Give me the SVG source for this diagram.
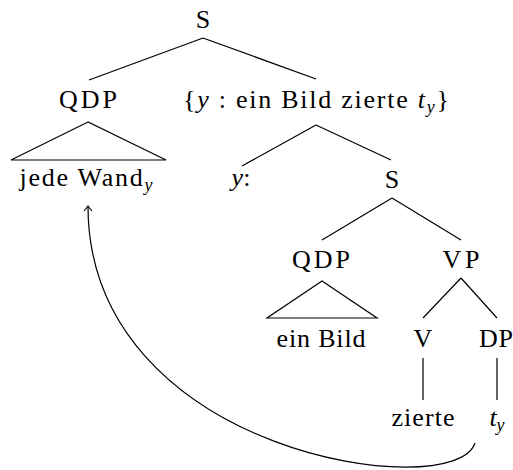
<svg xmlns="http://www.w3.org/2000/svg" width="513" height="470" viewBox="0 0 513 470">
<style>
text{font-size:26px;fill:#000;text-anchor:middle}
.it{font-style:italic}
.sub{font-style:italic;font-size:18px}
.e{stroke:#000;stroke-width:1.2;fill:none}
</style>
<defs>
<marker id="arr" markerUnits="userSpaceOnUse" markerWidth="14" markerHeight="14" refX="0" refY="0" viewBox="-7 -7 14 14" orient="auto" overflow="visible">
<path d="M -5 -4 Q -1.5 -1 0 0 Q -1.5 1 -5 4" fill="none" stroke="#000" stroke-width="1.1"/>
</marker>
</defs>
<rect width="513" height="470" fill="#fff"/>
<g id="connectors">
<path class="e" d="M203 38 L89 80 M203 38 L316 79"/>
<path class="e" d="M88 122 L11 160 L166 160 Z"/>
<path class="e" d="M316 125 L242 166 M316 125 L391 160"/>
<path class="e" d="M392 198 L322 240 M392 198 L461 240"/>
<path class="e" d="M322 281 L267 318 L377 318 Z"/>
<path class="e" d="M461 278 L423 318 M461 278 L497 318"/>
<path class="e" d="M423 358 L423 400 M497 358 L497 400"/>
<path id="move" class="e" d="M475 443 C455 505, 88 455, 88 206" marker-end="url(#arr)"/>
</g>
<g id="n-S"><text x="203" y="28" style="font-family:Georgia,'Times New Roman',serif">S</text></g>
<g id="n-QDP1"><text x="88" y="108" textLength="58" lengthAdjust="spacing" style="font-family:Georgia,'Times New Roman',serif">QDP</text></g>
<g id="n-set"><text x="316" y="108" textLength="266" lengthAdjust="spacing" style="font-family:Georgia,'Times New Roman',serif">{<tspan class="it">y</tspan> : ein Bild zierte <tspan class="it">t</tspan><tspan class="sub" dy="5">y</tspan><tspan dy="-5">}</tspan></text></g>
<g id="n-jede"><text x="86" y="186" textLength="133" lengthAdjust="spacing" style="font-family:Georgia,'Times New Roman',serif">jede Wand<tspan class="sub" dy="5">y</tspan></text></g>
<g id="n-y"><text x="241" y="186" style="font-family:Georgia,'Times New Roman',serif"><tspan class="it">y</tspan>:</text></g>
<g id="n-S2"><text x="392" y="188" style="font-family:Georgia,'Times New Roman',serif">S</text></g>
<g id="n-QDP2"><text x="321" y="268" textLength="58" lengthAdjust="spacing" style="font-family:Georgia,'Times New Roman',serif">QDP</text></g>
<g id="n-VP"><text x="461" y="268" textLength="37" lengthAdjust="spacing" style="font-family:Georgia,'Times New Roman',serif">VP</text></g>
<g id="n-einBild"><text x="321" y="347" textLength="89" lengthAdjust="spacing" style="font-family:Georgia,'Times New Roman',serif">ein Bild</text></g>
<g id="n-V"><text x="423" y="347" style="font-family:Georgia,'Times New Roman',serif">V</text></g>
<g id="n-DP"><text x="496" y="347" textLength="34" lengthAdjust="spacing" style="font-family:Georgia,'Times New Roman',serif">DP</text></g>
<g id="n-zierte"><text x="423" y="426" textLength="63" lengthAdjust="spacing" style="font-family:Georgia,'Times New Roman',serif">zierte</text></g>
<g id="n-ty"><text x="497" y="426" style="font-family:Georgia,'Times New Roman',serif"><tspan class="it">t</tspan><tspan class="sub" dy="5">y</tspan></text></g>
</svg>
